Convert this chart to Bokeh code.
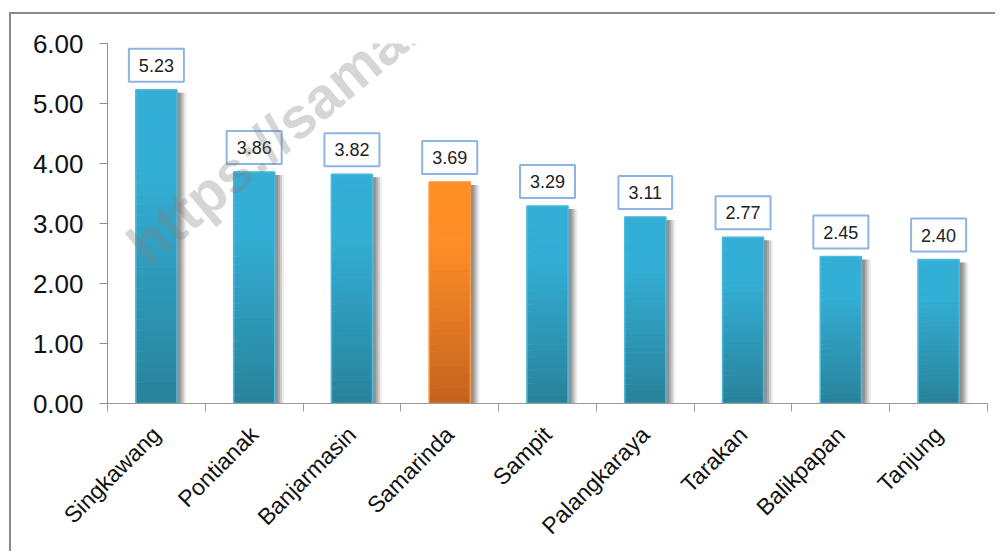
from math import pi
from bokeh.plotting import figure
from bokeh.models import (Range1d, LinearAxis, FixedTicker, NumeralTickFormatter,
                          ColumnDataSource, Label)
from bokeh.transform import dodge
from bokeh.embed import file_html
from bokeh.resources import INLINE

# ---- data ----
cities = ["Singkawang", "Pontianak", "Banjarmasin", "Samarinda", "Sampit",
          "Palangkaraya", "Tarakan", "Balikpapan", "Tanjung"]
values = [5.23, 3.86, 3.82, 3.69, 3.29, 3.11, 2.77, 2.45, 2.40]
value_labels = ["5.23", "3.86", "3.82", "3.69", "3.29", "3.11", "2.77", "2.45", "2.40"]
highlight = "Samarinda"
y_ticks = [0, 1, 2, 3, 4, 5, 6]

FONT = "Liberation Sans"
BAR_W = 0.42

blue_top, blue_bot, blue_edge = (0x33, 0xAF, 0xD6), (0x28, 0x82, 0x9A), "#4DBADB"
orng_top, orng_bot, orng_edge = (0xFF, 0x8E, 0x27), (0xC4, 0x62, 0x1E), "#F7963F"

def mix(c0, c1, t):
    return "#%02x%02x%02x" % tuple(int(round(a + (b - a) * t)) for a, b in zip(c0, c1))

n = len(cities)
centers = [i + 0.5 for i in range(n)]   # category slots on the x scale

p = figure(width=995, height=551, x_range=Range1d(0, n), y_range=Range1d(0, 6),
           output_backend="svg", toolbar_location=None,
           x_axis_location=None, y_axis_location=None,
           min_border_left=107, min_border_right=8, min_border_top=43, min_border_bottom=146)
p.outline_line_color = None
p.xgrid.visible = False
p.ygrid.visible = False
p.background_fill_color = "white"
p.border_fill_color = None
p.styles = {"box-shadow": "inset 9px 12px 0 0 #ffffff, inset 11px 14px 0 0 #8a8a8a",
            "background-color": "#ffffff"}

# ---- y axis ----
yax = LinearAxis(ticker=FixedTicker(ticks=y_ticks), formatter=NumeralTickFormatter(format="0.00"))
yax.axis_line_color = "#8c8c8c"
yax.major_tick_line_color = "#8c8c8c"
yax.major_tick_out = 8
yax.major_tick_in = 0
yax.minor_tick_line_color = None
yax.major_label_text_font = FONT
yax.major_label_text_font_size = "26px"
yax.major_label_text_color = "#111111"
yax.major_label_standoff = 16
p.add_layout(yax, "left")

# ---- x axis: names at slot centres, ticks at slot boundaries ----
xax = LinearAxis(ticker=FixedTicker(ticks=centers, minor_ticks=list(range(n + 1))))
xax.major_label_overrides = {c: name for c, name in zip(centers, cities)}
xax.axis_line_color = "#9a9a9a"
xax.major_tick_line_color = None
xax.major_tick_out = 0
xax.major_tick_in = 0
xax.minor_tick_line_color = "#9a9a9a"
xax.minor_tick_out = 8
xax.minor_tick_in = 0
xax.major_label_orientation = pi / 4
xax.major_label_text_font = FONT
xax.major_label_text_font_size = "23px"
xax.major_label_text_color = "#111111"
xax.major_label_standoff = 19
p.add_layout(xax, "below")

# ---- shadows ----
shadow_src = ColumnDataSource(dict(x=centers, top=[v - 0.05 for v in values]))
for off, alpha in [(0.095, 0.12), (0.075, 0.22), (0.055, 0.32), (0.035, 0.38)]:
    p.vbar(x=dodge("x", off), top="top", bottom=0, width=BAR_W,
           source=shadow_src, fill_color="#666666", fill_alpha=alpha, line_color=None)

# ---- gradient bars ----
N = 30
xs, bots, tops, cols = [], [], [], []
for c, x, v in zip(cities, centers, values):
    c_top, c_bot = (orng_top, orng_bot) if c == highlight else (blue_top, blue_bot)
    for k in range(N):
        t = (k + 0.5) / N
        xs.append(x)
        bots.append(v * k / N)
        tops.append(v * (k + 1) / N)
        cols.append(mix(c_bot, c_top, min(1.0, t * 1.35)))
p.vbar(x=xs, bottom=bots, top=tops, width=BAR_W, fill_color=cols, line_color=cols, line_width=0.6)

edge_cols = [orng_edge if c == highlight else blue_edge for c in cities]
p.vbar(x=centers, top=values, bottom=0, width=BAR_W, fill_color=None,
       line_color=edge_cols, line_width=1.5)

# ---- value labels ----
for x, v, lab in zip(centers, values, value_labels):
    p.add_layout(Label(x=x, y=v, text=lab,
                       text_align="center", text_baseline="bottom", y_offset=8,
                       text_font=FONT, text_font_size="18px", text_color="#222222",
                       background_fill_color="white", border_line_color="#8DB4E2",
                       border_line_width=2, padding=(10, 10)))

# ---- watermark ----
wm = Label(x=0.5, y=2.1, text="https://samarindakota.bps.go.id",
           angle=40 * pi / 180, text_font=FONT, text_font_size="58px", text_font_style="bold",
           text_color="#808080", text_alpha=0.32)
p.add_layout(wm)

open("out.html", "w").write(file_html(p, INLINE))
